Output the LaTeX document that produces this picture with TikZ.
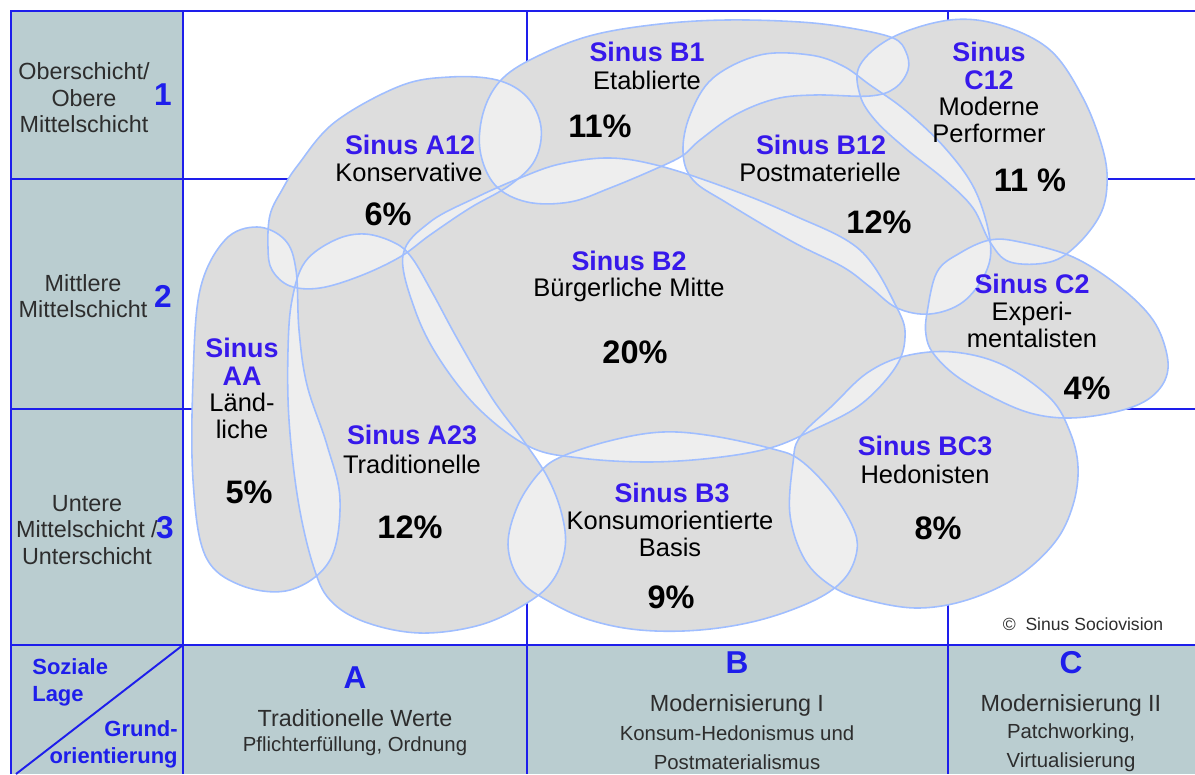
\documentclass[tikz,border=0pt]{standalone}
\usepackage{fontspec}
\setmainfont{Liberation Sans}
\usetikzlibrary{positioning}

\definecolor{gridblue}{RGB}{30, 30, 235}
\definecolor{sinusblue}{RGB}{55, 25, 235}
\definecolor{panelgray}{RGB}{186, 205, 208}
\definecolor{blobgray}{RGB}{221, 221, 221}
\definecolor{lensgray}{RGB}{238, 238, 238}
\definecolor{blobedge}{RGB}{160, 190, 255}
\definecolor{textgray}{RGB}{45, 45, 45}

% milieu outlines (pixel grid, y downwards)
\newcommand{\shpAA}{plot[smooth cycle, tension=0.6] coordinates {(257,227) (285,240) (296,270) (299,330) (307,385) (327,445) (340,500) (330,560) (290,590) (240,585) (205,555) (193,480) (193,380) (200,290) (225,240)}}
\newcommand{\shpAzd}{plot[smooth cycle, tension=0.6] coordinates {(292,300) (305,262) (335,240) (365,234) (395,243) (412,258) (432,292) (458,340) (492,398) (523,440) (548,478) (562,515) (565,548) (553,580) (527,603) (480,625) (420,633) (365,622) (330,600) (313,565) (298,500) (289,420) (288,350)}}
\newcommand{\shpAez}{plot[smooth cycle, tension=0.6] coordinates {(268,248) (270,215) (282,190) (298,165) (335,122) (400,86) (450,77) (497,80) (527,97) (541,127) (535,160) (510,185) (470,208) (430,235) (400,257) (360,276) (320,288) (290,286) (272,270)}}
\newcommand{\shpBe}{plot[smooth cycle, tension=0.6] coordinates {(503,78) (540,55) (593,35) (660,24) (727,20) (800,22) (850,28) (893,38) (906,52) (908,70) (895,88) (870,96) (815,95) (775,99) (735,115) (700,140) (682,156) (653,170) (610,188) (570,202) (527,202) (495,185) (480,150) (484,110)}}
\newcommand{\shpBez}{plot[smooth cycle, tension=0.6] coordinates {(683,152) (690,115) (713,78) (760,55) (810,55) (843,66) (870,85) (905,110) (945,148) (975,190) (990,240) (986,272) (963,302) (930,314) (897,308) (870,287) (843,267) (793,242) (727,203) (693,180)}}
\newcommand{\shpCez}{plot[smooth cycle, tension=0.6] coordinates {(893,37) (950,20) (1000,25) (1050,50) (1083,98) (1103,150) (1107,185) (1100,215) (1077,245) (1050,262) (1010,262) (990,242) (973,208) (945,180) (905,148) (875,120) (860,95) (860,65)}}
\newcommand{\shpCz}{plot[smooth cycle, tension=0.6] coordinates {(927,313) (937,272) (960,253) (990,240) (1020,242) (1073,257) (1120,287) (1153,320) (1167,355) (1165,380) (1147,400) (1115,412) (1070,418) (1030,413) (990,396) (955,375) (933,353) (926,335)}}
\newcommand{\shpBz}{plot[smooth cycle, tension=0.6] coordinates {(403,255) (430,222) (475,198) (520,178) (560,164) (610,158) (660,166) (727,188) (793,215) (860,250) (897,308) (905,337) (895,368) (860,405) (813,430) (770,448) (713,458) (647,462) (580,458) (530,447) (480,410) (440,360) (415,310)}}
\newcommand{\shpBd}{plot[smooth cycle, tension=0.6] coordinates {(563,456) (613,440) (663,432) (713,436) (773,449) (800,460) (830,490) (852,525) (857,550) (845,578) (815,600) (760,620) (700,630) (640,630) (590,620) (550,602) (520,580) (508,545) (518,505) (540,472)}}
\newcommand{\shpBCd}{plot[smooth cycle, tension=0.6] coordinates {(793,463) (800,437) (833,405) (867,373) (905,356) (953,352) (1003,365) (1050,398) (1070,432) (1078,467) (1073,505) (1055,542) (1017,577) (967,600) (917,608) (867,600) (833,587) (805,560) (790,515)}}

\begin{document}
\begin{tikzpicture}[x=0.02cm, y=-0.02cm,
  sinustitle/.style={text=sinusblue, font=\fontsize{15.3}{15.9}\selectfont\bfseries, align=center, inner sep=0pt},
  milieu/.style={font=\fontsize{14.5}{15}\selectfont, align=center, inner sep=0pt},
  pctlabel/.style={font=\fontsize{18.5}{20}\selectfont\bfseries, inner sep=0pt},
  layerlabel/.style={text=textgray, font=\fontsize{13.3}{15}\selectfont, align=center, inner sep=0pt},
  layernum/.style={text=gridblue, font=\fontsize{18}{20}\selectfont\bfseries, inner sep=0pt},
  axishead/.style={text=gridblue, font=\fontsize{18}{20}\selectfont\bfseries, inner sep=0pt},
  axistext/.style={text=textgray, font=\fontsize{13.3}{15}\selectfont, inner sep=0pt},
  axissub/.style={text=textgray, font=\fontsize{11.6}{16.4}\selectfont, align=center, inner sep=0pt},
  cornertext/.style={text=gridblue, font=\fontsize{12.5}{15.3}\selectfont\bfseries, inner sep=0pt},
  gridline/.style={draw=gridblue, line width=1.1pt},
  blobline/.style={draw=blobedge, line width=0.9pt}]
  \useasboundingbox (0,0) rectangle (1195,774);

  % Panels
  \fill[panelgray] (11,11) rectangle (183,774);
  \fill[panelgray] (11,645) rectangle (1195,774);

  % Grid
  \draw[gridline] (11,774) -- (11,11) -- (1195,11);
  \draw[gridline] (11,179) -- (1195,179);
  \draw[gridline] (11,409) -- (1195,409);
  \draw[gridline] (11,645) -- (1195,645);
  \draw[gridline] (183,11) -- (183,774);
  \draw[gridline] (527,11) -- (527,774);
  \draw[gridline] (948,11) -- (948,774);
  \draw[gridline] (183,645) -- (16,774);

  % Milieus: overlaps lighter
  \fill[lensgray] \shpAA;
  \fill[lensgray] \shpAzd;
  \fill[lensgray] \shpAez;
  \fill[lensgray] \shpBe;
  \fill[lensgray] \shpBez;
  \fill[lensgray] \shpCez;
  \fill[lensgray] \shpCz;
  \fill[lensgray] \shpBz;
  \fill[lensgray] \shpBd;
  \fill[lensgray] \shpBCd;
  \fill[blobgray, even odd rule] \shpAA \shpAzd \shpAez \shpBe \shpBez \shpCez \shpCz \shpBz \shpBd \shpBCd;
  \draw[blobline] \shpAA;
  \draw[blobline] \shpAzd;
  \draw[blobline] \shpAez;
  \draw[blobline] \shpBe;
  \draw[blobline] \shpBez;
  \draw[blobline] \shpCez;
  \draw[blobline] \shpCz;
  \draw[blobline] \shpBz;
  \draw[blobline] \shpBd;
  \draw[blobline] \shpBCd;

  % Soziale Lage
  \node[layerlabel] (upper) at (84,98) {Oberschicht/\\Obere\\Mittelschicht};
  \node[layernum] (num1) at (163,95) {1};
  \node[layerlabel] (middle) at (83,296) {Mittlere\\Mittelschicht};
  \node[layernum] (num2) at (163,296) {2};
  \node[layerlabel] (lower) at (87,530) {Untere\\Mittelschicht /\\Unterschicht};
  \node[layernum] (num3) at (165,528) {3};

  % Grundorientierung
  \node[cornertext, align=left, anchor=west] (lage) at (32,682) {Soziale\\Lage};
  \node[cornertext, align=right, anchor=east] (grund) at (178,744) {Grund-\\orientierung};
  \node[axishead] (headA) at (355,678) {A};
  \node[axistext] (textA) at (355,718) {Traditionelle Werte};
  \node[axissub] (subA) at (355,746) {Pflichterfüllung, Ordnung};
  \node[axishead] (headB) at (737,663) {B};
  \node[axistext] (textB) at (737,705) {Modernisierung I};
  \node[axissub] (subB) at (737,748) {Konsum-Hedonismus und\\Postmaterialismus};
  \node[axishead] (headC) at (1071,663) {C};
  \node[axistext] (textC) at (1071,705) {Modernisierung II};
  \node[axissub] (subC) at (1071,748) {Patchworking,\\Virtualisierung};

  % Milieu labels
  \node[sinustitle] (titleB1) at (647,52) {Sinus B1};
  \node[milieu] (nameB1) at (647,80) {Etablierte};
  \node[pctlabel] (pctB1) at (600,126) {11\%};

  \node[sinustitle] (titleC12) at (989,66) {Sinus\\C12};
  \node[milieu] (nameC12) at (989,120) {Moderne\\Performer};
  \node[pctlabel] (pctC12) at (1030,180) {11 \%};

  \node[sinustitle] (titleA12) at (410,145) {Sinus A12};
  \node[milieu] (nameA12) at (409,172) {Konservative};
  \node[pctlabel] (pctA12) at (388,214) {6\%};

  \node[sinustitle] (titleB12) at (821,145) {Sinus B12};
  \node[milieu] (nameB12) at (820,172) {Postmaterielle};
  \node[pctlabel] (pctB12) at (879,222) {12\%};

  \node[sinustitle] (titleB2) at (629,261) {Sinus B2};
  \node[milieu] (nameB2) at (629,290) {Bürgerliche Mitte};
  \node[pctlabel] (pctB2) at (635,352) {20\%};

  \node[sinustitle] (titleC2) at (1032,284) {Sinus C2};
  \node[milieu] (nameC2) at (1032,325) {Experi-\\mentalisten};
  \node[pctlabel] (pctC2) at (1087,388) {4\%};

  \node[sinustitle] (titleAA) at (242,362) {Sinus\\AA};
  \node[milieu] (nameAA) at (242,416) {Länd-\\liche};
  \node[pctlabel] (pctAA) at (249,492) {5\%};

  \node[sinustitle] (titleA23) at (412,435) {Sinus A23};
  \node[milieu] (nameA23) at (412,464) {Traditionelle};
  \node[pctlabel] (pctA23) at (410,527) {12\%};

  \node[sinustitle] (titleB3) at (672,493) {Sinus B3};
  \node[milieu] (nameB3) at (670,534) {Konsumorientierte\\Basis};
  \node[pctlabel] (pctB3) at (671,597) {9\%};

  \node[sinustitle] (titleBC3) at (925,446) {Sinus BC3};
  \node[milieu] (nameBC3) at (925,474) {Hedonisten};
  \node[pctlabel] (pctBC3) at (938,528) {8\%};

  \node[text=textgray, font=\fontsize{10}{12}\selectfont, inner sep=0pt] (copyright) at (1083,624) {\textcopyright\ \ Sinus Sociovision};
\end{tikzpicture}
\end{document}
